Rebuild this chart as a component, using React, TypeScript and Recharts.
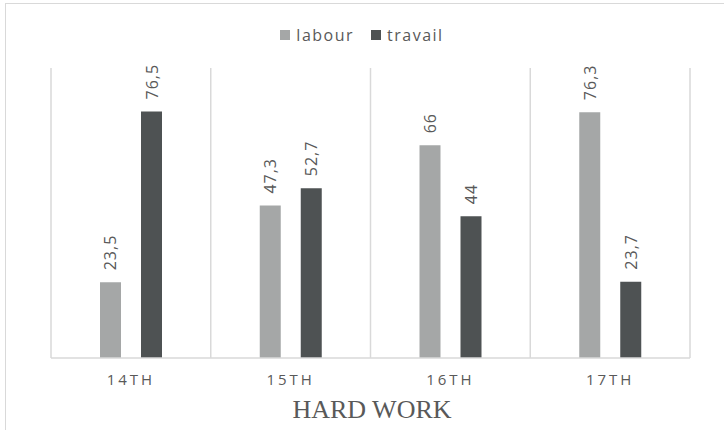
import React from "react";
import { Bar, BarChart, CartesianGrid, LabelList, Legend, XAxis, YAxis } from "recharts";

const centuries = ["14TH", "15TH", "16TH", "17TH"];
const labour = [23.5, 47.3, 66, 76.3];
const travail = [76.5, 52.7, 44, 23.7];

const data = centuries.map((c, i) => ({ century: c, labour: labour[i], travail: travail[i] }));

const textGray = "#595959";
const lineGray = "#d9d9d9";
const labourColor = "#a5a7a7";
const travailColor = "#4e5253";
const sans = "'Open Sans', 'DejaVu Sans', sans-serif";

// value labels written upward above each bar, decimal comma
const VerticalLabel = (props: any) => {
  const { x, y, width, value } = props;
  const cx = x + width / 2;
  const cy = y - 12;
  return (
    <text
      x={cx}
      y={cy}
      transform={`rotate(-90, ${cx}, ${cy})`}
      textAnchor="start"
      dominantBaseline="central"
      fill={textGray}
      fontSize={16}
      fontFamily={sans}
      letterSpacing={1}
    >
      {String(value).replace(".", ",")}
    </text>
  );
};

const LegendRow = (props: any) => {
  const items = props.payload || [];
  return (
    <div style={{ display: "flex", justifyContent: "center", alignItems: "center", height: 20, fontFamily: sans, fontSize: 16, color: textGray }}>
      {items.map((it: any) => (
        <div key={it.value} style={{ display: "flex", alignItems: "center", marginRight: 17 }}>
          <span style={{ display: "inline-block", width: 10, height: 10, background: it.color, marginRight: 6 }} />
          <span style={{ letterSpacing: 1.5 }}>{it.value}</span>
        </div>
      ))}
    </div>
  );
};

export default function App() {
  return (
    <div style={{ position: "absolute", left: 0, top: 0, width: 724, height: 430, background: "#fff", overflow: "hidden" }}>
      <div style={{ position: "absolute", left: 5, top: 3, width: 760, height: 460, border: `1.5px solid ${lineGray}` }} />
      {/* the top legend adds its own 20px to the top offset */}
      <BarChart
        width={724}
        height={430}
        data={data}
        margin={{ top: 48, right: 34, bottom: 42, left: 51 }}
        barSize={21}
        barGap={20}
        style={{ position: "absolute", left: 0, top: 0 }}
      >
        <CartesianGrid
          horizontal={false}
          stroke={lineGray}
          strokeWidth={1.5}
          verticalCoordinatesGenerator={({ offset }: any) =>
            centuries.map((_, i) => offset.left + (i * offset.width) / centuries.length).concat(offset.left + offset.width)
          }
        />
        <XAxis
          dataKey="century"
          height={30}
          stroke={lineGray}
          strokeWidth={1.5}
          tickLine={false}
          tick={{ fill: textGray, fontSize: 15, fontFamily: sans, letterSpacing: 3, dy: 8 }}
        />
        <YAxis hide domain={[0, 90]} allowDataOverflow />
        <Legend verticalAlign="top" content={<LegendRow />} wrapperStyle={{ top: 25 }} />
        <Bar dataKey="labour" fill={labourColor} isAnimationActive={false}>
          <LabelList dataKey="labour" content={<VerticalLabel />} />
        </Bar>
        <Bar dataKey="travail" fill={travailColor} isAnimationActive={false}>
          <LabelList dataKey="travail" content={<VerticalLabel />} />
        </Bar>
      </BarChart>
      <div
        style={{
          position: "absolute",
          left: 0,
          width: 744,
          top: 395,
          textAlign: "center",
          fontFamily: "'Liberation Serif', 'Times New Roman', serif",
          fontSize: 26,
          color: textGray,
        }}
      >
        HARD WORK
      </div>
    </div>
  );
}
